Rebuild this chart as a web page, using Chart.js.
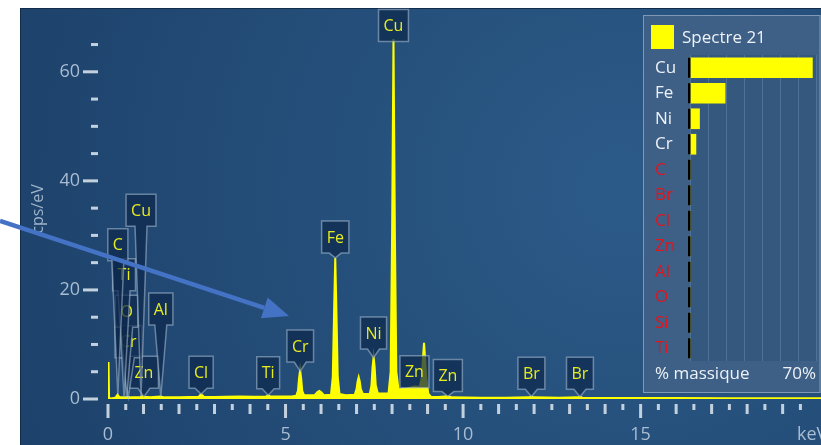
<!DOCTYPE html>
<html>
<head>
<meta charset="utf-8">
<script src="https://cdn.jsdelivr.net/npm/chart.js@4/dist/chart.umd.min.js"></script>
<style>
  html, body { margin: 0; padding: 0; background: #fff; }
  #wrap { position: relative; width: 821px; height: 445px; overflow: hidden; }
  #spectrum { position: absolute; left: 0; top: 0; }
  #quant { position: absolute; left: 643px; top: 15px; }
</style>
</head>
<body>
<div id="wrap">
  <canvas id="spectrum" width="821" height="445"></canvas>
  <canvas id="quant" width="178" height="380"></canvas>
</div>
<script>
// EDS spectrum (keV -> cps/eV)
const energyKeV = [0.00, 0.015, 0.03, 0.10, 0.22, 0.27, 0.32, 0.50, 0.55, 0.65, 0.90, 0.95, 1.02, 1.20, 1.48, 1.60,
  2.00, 2.30, 2.55, 2.62, 2.70, 3.00, 3.30, 3.70, 4.10, 4.45, 4.51, 4.58, 4.90, 5.20,
  5.30, 5.35, 5.38, 5.41, 5.44, 5.47, 5.52,
  5.82, 5.90, 5.95, 6.00, 6.08,
  6.28, 6.33, 6.37, 6.40, 6.43, 6.47, 6.52, 6.70,
  6.95, 7.00, 7.03, 7.06, 7.09, 7.12, 7.18,
  7.37, 7.42, 7.45, 7.48, 7.51, 7.54, 7.60,
  7.90, 7.96, 8.00, 8.04, 8.08, 8.12, 8.18,
  8.40, 8.63, 8.78, 8.84, 8.87, 8.90, 8.93, 8.96, 9.02, 9.10,
  9.30, 9.57, 9.70, 10.50, 11.20, 11.85, 11.92, 12.00, 12.70, 13.22, 13.29, 13.36, 14.50, 16.00, 17.50, 19.00, 20.10];
const countsCps = [0, 6.8, 0.2, 0.1, 0.3, 0.8, 0.3, 0.3, 0.4, 0.3, 0.3, 0.5, 0.4, 0.3, 0.45, 0.3,
  0.3, 0.35, 0.4, 0.9, 0.4, 0.35, 0.4, 0.45, 0.4, 0.45, 0.7, 0.45, 0.45, 0.5,
  0.6, 1.5, 3.8, 5.3, 3.8, 1.5, 0.7,
  0.7, 1.3, 1.5, 1.3, 0.7,
  0.8, 4.0, 17, 25.9, 17, 4.0, 0.9, 0.7,
  0.8, 1.8, 3.2, 4.0, 3.2, 1.8, 0.9,
  0.9, 2.5, 5.8, 7.7, 5.8, 2.5, 1.0,
  1.0, 5.0, 30, 66, 30, 5.0, 1.8,
  1.9, 2.3, 2.2, 4.0, 7.5, 10.3, 7.5, 4.0, 1.0, 0.4,
  0.35, 0.5, 0.3, 0.25, 0.25, 0.3, 0.45, 0.3, 0.25, 0.3, 0.4, 0.25, 0.2, 0.2, 0.15, 0.15, 0.15];

// Peak identification tags (drawn in this order), energy and tag height in cps/eV
const peakNames = ["Zn", "Cr", "O", "Ti", "C", "Al", "Cu", "Cl", "Ti", "Cr", "Fe", "Ni", "Cu", "Zn", "Zn", "Br", "Br"];
const peakKeV = [1.012, 0.573, 0.525, 0.452, 0.277, 1.487, 0.930, 2.622, 4.511, 5.414, 6.400, 7.478, 8.040, 8.630, 9.572, 11.924, 13.291];
const tagLevel = [4.9, 10.5, 16.1, 22.8, 28.3, 16.5, 34.6, 4.9, 4.8, 9.7, 29.7, 12.1, 68.5, 5.0, 4.3, 4.7, 4.7];

// Axis tick labels
const yLabels = [0, 20, 40, 60];
const xLabels = [0, 5, 10, 15];

// Quantification inset (% massique)
const quantElements = ["Cu", "Fe", "Ni", "Cr", "C", "Br", "Cl", "Zn", "Al", "O", "Si", "Ti"];
const quantWt = [68, 19.5, 5.3, 3.3, 0, 0, 0, 0, 0, 0, 0, 0];

const FONT = '"Open Sans", "Noto Sans", sans-serif';

function valueAt(e) {
  for (let i = 1; i < energyKeV.length; i++) {
    if (e <= energyKeV[i]) {
      const t = (e - energyKeV[i - 1]) / (energyKeV[i] - energyKeV[i - 1]);
      return countsCps[i - 1] + t * (countsCps[i] - countsCps[i - 1]);
    }
  }
  return 0;
}

// background panel
const bgPlugin = {
  id: "bg",
  beforeDraw(chart) {
    const ctx = chart.ctx;
    ctx.save();
    ctx.fillStyle = "#fff";
    ctx.fillRect(0, 0, chart.width, chart.height);
    const g = ctx.createRadialGradient(620, 190, 10, 620, 190, 720);
    g.addColorStop(0, "#2c5a88");
    g.addColorStop(1, "#1b3f67");
    ctx.fillStyle = g;
    ctx.fillRect(20, 8, chart.width - 20, chart.height - 8);
    ctx.strokeStyle = "#122d4c";
    ctx.lineWidth = 1;
    ctx.strokeRect(20.5, 8.5, chart.width, chart.height);
    ctx.restore();
  }
};

// tick marks, tick labels, axis title, keV unit
const axisMarks = {
  id: "axisMarks",
  afterDraw(chart) {
    const { ctx, chartArea, scales } = chart;
    ctx.save();
    ctx.fillStyle = "#c3d1df";
    scales.y.ticks.forEach(t => {
      if (Math.abs(t.value % 5) > 1e-6) return;
      const y = scales.y.getPixelForValue(t.value);
      const major = t.value % 20 === 0;
      const x0 = chartArea.left - (major ? 25 : 17);
      ctx.fillRect(x0, y - 1.5, chartArea.left - 10 - x0, 3);
    });
    scales.x.ticks.forEach(t => {
      const v = Math.round(t.value * 2) / 2;
      if (Math.abs(v - t.value) > 1e-6 || v > 20) return;
      const x = scales.x.getPixelForValue(v);
      const len = v % 5 === 0 ? 14 : (v % 1 === 0 ? 10 : 6);
      ctx.fillRect(x - 1.5, chartArea.bottom + 5, 3, len);
    });

    ctx.fillStyle = "#a9bcd1";
    ctx.font = "18px " + FONT;
    ctx.textBaseline = "middle";
    ctx.textAlign = "right";
    yLabels.forEach(v => ctx.fillText(String(v), chartArea.left - 28, scales.y.getPixelForValue(v)));
    ctx.textAlign = "center";
    xLabels.forEach(v => ctx.fillText(String(v), scales.x.getPixelForValue(v), chartArea.bottom + 36));
    ctx.textAlign = "left";
    ctx.fillText("keV", 797, chartArea.bottom + 36);

    ctx.translate(38, 209);
    ctx.rotate(-Math.PI / 2);
    ctx.textAlign = "center";
    ctx.font = "16px " + FONT;
    ctx.fillStyle = "#9fb4ca";
    ctx.fillText("cps/eV", 0, 0);
    ctx.restore();
  }
};

// peak tags with pointers
const tagsPlugin = {
  id: "tags",
  afterDatasetsDraw(chart) {
    const { ctx, scales } = chart;
    ctx.save();
    ctx.font = "16px " + FONT;
    peakNames.forEach((name, i) => {
      const cx = scales.x.getPixelForValue(peakKeV[i]);
      const cy = scales.y.getPixelForValue(tagLevel[i]);
      const tipY = scales.y.getPixelForValue(valueAt(peakKeV[i]));
      const w = Math.max(20, ctx.measureText(name).width + 10);
      const h = 32;
      const l = cx - w / 2, r = cx + w / 2, t = cy - h / 2, b = cy + h / 2;
      ctx.beginPath();
      ctx.moveTo(l, t);
      ctx.lineTo(r, t);
      ctx.lineTo(r, b);
      if (tipY > b + 1) {
        ctx.lineTo(cx + 6, b);
        ctx.lineTo(cx, tipY);
        ctx.lineTo(cx - 6, b);
      }
      ctx.lineTo(l, b);
      ctx.closePath();
      ctx.fillStyle = "rgba(14,40,76,0.72)";
      ctx.fill();
      ctx.strokeStyle = "rgba(170,192,214,0.55)";
      ctx.lineWidth = 1.5;
      ctx.stroke();
      ctx.fillStyle = "#e8ec1e";
      ctx.textAlign = "center";
      ctx.textBaseline = "middle";
      ctx.fillText(name, cx, cy + 1);
    });
    ctx.restore();
  }
};

// blue callout arrow pasted over the screenshot
const arrowPlugin = {
  id: "arrow",
  afterDraw(chart) {
    const ctx = chart.ctx;
    const x1 = 0, y1 = 221, x2 = 289, y2 = 316;
    const a = Math.atan2(y2 - y1, x2 - x1);
    const hl = 26, hw = 11;
    const bx = x2 - hl * Math.cos(a), by = y2 - hl * Math.sin(a);
    ctx.save();
    ctx.strokeStyle = "#4472c4";
    ctx.fillStyle = "#4472c4";
    ctx.lineWidth = 4.5;
    ctx.beginPath();
    ctx.moveTo(x1, y1);
    ctx.lineTo(bx, by);
    ctx.stroke();
    ctx.beginPath();
    ctx.moveTo(x2, y2);
    ctx.lineTo(bx + hw * Math.sin(a), by - hw * Math.cos(a));
    ctx.lineTo(bx - hw * Math.sin(a), by + hw * Math.cos(a));
    ctx.closePath();
    ctx.fill();
    ctx.restore();
  }
};

new Chart(document.getElementById("spectrum"), {
  type: "line",
  data: {
    datasets: [{
      data: energyKeV.map((e, i) => ({ x: e, y: countsCps[i] })),
      borderColor: "#ffff00",
      backgroundColor: "#ffff00",
      borderWidth: 2,
      pointRadius: 0,
      fill: "origin",
      tension: 0
    }]
  },
  options: {
    responsive: false,
    animation: false,
    events: [],
    layout: { padding: { top: 8, left: 0, right: 0, bottom: 0 } },
    plugins: { legend: { display: false }, tooltip: { enabled: false } },
    scales: {
      x: {
        type: "linear", min: 0, max: 20.08,
        afterFit: s => { s.height = 46; },
        grid: { display: false, drawTicks: false },
        border: { display: false },
        ticks: { display: false, stepSize: 0.5, autoSkip: false }
      },
      y: {
        min: 0, max: 71.7,
        afterFit: s => { s.width = 108; },
        grid: { display: false, drawTicks: false },
        border: { display: false },
        ticks: { display: false, stepSize: 5, autoSkip: false }
      }
    }
  },
  plugins: [bgPlugin, axisMarks, tagsPlugin, arrowPlugin]
});

// inset panel
const panelPlugin = {
  id: "panel",
  beforeDraw(chart) {
    const { ctx, chartArea } = chart;
    ctx.save();
    ctx.fillStyle = "#3e6087";
    ctx.fillRect(0, 0, chart.width, 378);
    ctx.strokeStyle = "#7e98b5";
    ctx.lineWidth = 1;
    ctx.strokeRect(0.5, 0.5, chart.width - 1.5, 377);
    ctx.fillStyle = "#35587e";
    ctx.fillRect(chartArea.left, chartArea.top, chartArea.right - chartArea.left, chartArea.bottom - chartArea.top);
    ctx.restore();
  },
  afterDatasetsDraw(chart) {
    const { ctx, scales } = chart;
    ctx.save();
    const x0 = scales.x.getPixelForValue(0);
    ctx.fillStyle = "#000";
    quantElements.forEach((el, i) => {
      const y = scales.y.getPixelForValue(i);
      ctx.fillRect(x0 - 2, y - 10, 2.5, 20);
    });
    ctx.fillStyle = "#ffff00";
    ctx.fillRect(8, 10, 23, 24);
    ctx.fillStyle = "#eef2f6";
    ctx.font = "17px " + FONT;
    ctx.textBaseline = "middle";
    ctx.textAlign = "left";
    ctx.fillText("Spectre 21", 39, 23);
    ctx.fillText("% massique", 12, 359);
    ctx.textAlign = "right";
    ctx.fillText("70%", scales.x.getPixelForValue(70), 359);
    ctx.restore();
  }
};

new Chart(document.getElementById("quant"), {
  type: "bar",
  data: {
    labels: quantElements,
    datasets: [{ data: quantWt, backgroundColor: "#ffff00", borderWidth: 0, barThickness: 20 }]
  },
  options: {
    indexAxis: "y",
    responsive: false,
    animation: false,
    events: [],
    layout: { padding: { left: 12, top: 40, right: 5, bottom: 34 } },
    plugins: { legend: { display: false }, tooltip: { enabled: false } },
    scales: {
      x: {
        min: 0, max: 70,
        afterFit: s => { s.height = 0; },
        ticks: { display: false, stepSize: 10 },
        grid: { color: "#4f7197", drawTicks: false, lineWidth: 1 },
        border: { display: false }
      },
      y: {
        afterFit: s => { s.width = 35; },
        grid: { display: false, drawTicks: false },
        border: { display: false },
        ticks: {
          crossAlign: "far", padding: 0,
          color: c => quantWt[c.index] > 0 ? "#eef2f6" : "#e3141c",
          font: { size: 17, family: FONT }
        }
      }
    }
  },
  plugins: [panelPlugin]
});
</script>
</body>
</html>
